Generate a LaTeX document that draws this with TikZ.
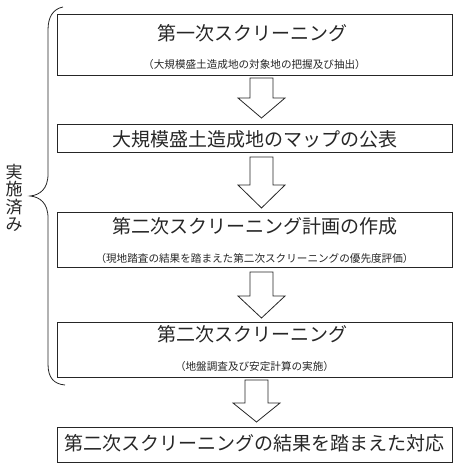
\documentclass[tikz,border=0pt]{standalone}
\usepackage{fontspec}
\newfontfamily\jp{Noto Sans CJK JP}
\begin{document}
\begin{tikzpicture}[x=1pt,y=-1pt,
  box/.style={draw=black!85, line width=0.8pt, rectangle, inner sep=0pt},
  title/.style={font=\jp\fontsize{19}{20}\selectfont, text=black!85, inner sep=0pt},
  sub/.style={font=\jp\fontsize{10.6}{12}\selectfont, text=black!85, inner sep=0pt},
  barrowst/.style={draw=black!85, line width=0.8pt, fill=white, line join=miter}
]
\useasboundingbox (0,0) rectangle (463,470);
\newcommand\barrow[4]{% x, top, base, tip
  \draw[barrowst] (#1-11.5,#2) -- (#1+11.5,#2) -- (#1+11.5,#3) -- (#1+23.5,#3)
     -- (#1,#4) -- (#1-23.5,#3) -- (#1-11.5,#3) -- cycle;}
% boxes
\node[box, minimum width=395pt, minimum height=61pt] (b1) at (254.5,44.5) {};
\node[title] (t1) at (252.5,33) {第一次スクリーニング};
\node[sub] (s1) at (254.5,64) {（大規模盛土造成地の対象地の把握及び抽出）};

\node[box, minimum width=395pt, minimum height=28pt] (b2) at (254.5,138) {};
\node[title] (t2) at (254.5,139) {大規模盛土造成地のマップの公表};

\node[box, minimum width=395pt, minimum height=55pt] (b3) at (254.5,239.5) {};
\node[title] (t3) at (254.5,226) {第二次スクリーニング計画の作成};
\node[sub] (s3) at (254.5,258) {（現地踏査の結果を踏まえた第二次スクリーニングの優先度評価）};

\node[box, minimum width=395pt, minimum height=55pt] (b4) at (254.5,349.5) {};
\node[title] (t4) at (252.5,334) {第二次スクリーニング};
\node[sub] (s4) at (254.5,366) {（地盤調査及び安定計算の実施）};

\node[box, minimum width=395pt, minimum height=35pt] (b5) at (254.5,444.5) {};
\node[title] (t5) at (254.5,443) {第二次スクリーニングの結果を踏まえた対応};

% block arrows
\barrow{261.5}{78}{98}{118}
\barrow{261.5}{157}{185}{208}
\barrow{261.5}{272}{296}{318}
\barrow{256.5}{380}{403}{422}

% brace
\draw[black!85, line width=0.8pt] (63,7) .. controls (53,9) and (48,17) .. (48,30) -- (48,174)
  .. controls (48,189) and (40,195) .. (30,196)
  .. controls (40,197) and (48,203) .. (48,218) -- (48,364)
  .. controls (48,378) and (54,384) .. (65,385);
\node[font=\jp\fontsize{17}{17.5}\selectfont, text=black!85, align=center, inner sep=0pt] (lbl) at (14,198) {実\\施\\済\\み};
\end{tikzpicture}
\end{document}
